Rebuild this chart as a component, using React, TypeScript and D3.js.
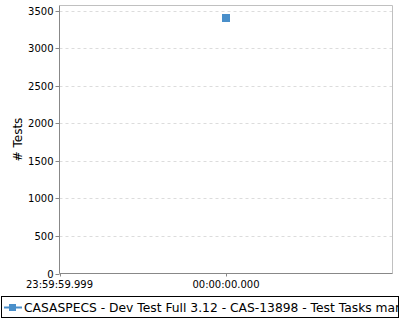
import React from "react";
import * as d3 from "d3";

const seriesName = "CASASPECS - Dev Test Full 3.12 - CAS-13898 - Test Tasks management";
const times = [0];
const values = [3400];
const yTicks = [0, 500, 1000, 1500, 2000, 2500, 3000, 3500];
const xTickValues = [-1, 0];
const xTickLabels = ["23:59:59.999", "00:00:00.000"];
const yLabel = "# Tests";

const W = 400, H = 320;
const m = { left: 59.5, right: 392.5, top: 5.5, bottom: 273.5 };
const color = "#4a8fca";

export default function App() {
  const x = d3.scaleLinear().domain([-1, 1]).range([m.left, m.right]);
  const y = d3.scaleLinear().domain([0, 3570]).range([m.bottom, m.top]);
  const font = "DejaVu Sans, sans-serif";
  return (
    <svg width={W} height={H} style={{ position: "absolute", left: 0, top: 0 }}>
      <rect width={W} height={H} fill="#fff" />
      {yTicks.slice(1).map((t) => (
        <line key={t} x1={m.left} x2={m.right} y1={Math.round(y(t)) + 0.5} y2={Math.round(y(t)) + 0.5}
          stroke="#dcdcdc" strokeDasharray="3,3" />
      ))}
      <path d={`M${m.left},${m.top}H${m.right}V${m.bottom}`} fill="none" stroke="#c0c0c0" />
      <line x1={m.left} x2={m.left} y1={m.top} y2={m.bottom} stroke="#888" />
      <line x1={m.left} x2={m.right} y1={m.bottom} y2={m.bottom} stroke="#888" />
      {yTicks.map((t) => (
        <g key={t}>
          <line x1={m.left - 4} x2={m.left} y1={Math.round(y(t)) + 0.5} y2={Math.round(y(t)) + 0.5} stroke="#888" />
          <text x={m.left - 6} y={Math.round(y(t)) + 4} textAnchor="end" fontFamily={font} fontSize={10} fill="#000">{t}</text>
        </g>
      ))}
      {xTickValues.map((t, i) => (
        <g key={t}>
          <line x1={Math.round(x(t)) + 0.5} x2={Math.round(x(t)) + 0.5} y1={m.bottom} y2={m.bottom + 3} stroke="#888" />
          <text x={x(t)} y={m.bottom + 14} textAnchor="middle" fontFamily={font} fontSize={10} fill="#000">{xTickLabels[i]}</text>
        </g>
      ))}
      <text transform={`translate(22,${(m.top + m.bottom) / 2}) rotate(-90)`} textAnchor="middle"
        fontFamily={font} fontSize={12} fill="#000">{yLabel}</text>
      {times.map((t, i) => (
        <rect key={i} x={Math.round(x(t)) - 4} y={Math.round(y(values[i])) - 4} width={8} height={8} fill={color} />
      ))}
      <defs>
        <clipPath id="lg"><rect x={0} y={294} width={399} height={26} /></clipPath>
      </defs>
      <g clipPath="url(#lg)">
        <rect x={1.5} y={296.5} width={397} height={21} fill="#fff" stroke="#000" />
        <line x1={4} x2={22} y1={307.5} y2={307.5} stroke={color} strokeWidth={2} />
        <rect x={9} y={304} width={7} height={7} fill={color} />
        <text x={24} y={312} fontFamily={font} fontSize={12.3} fill="#000">{seriesName}</text>
      </g>
    </svg>
  );
}
